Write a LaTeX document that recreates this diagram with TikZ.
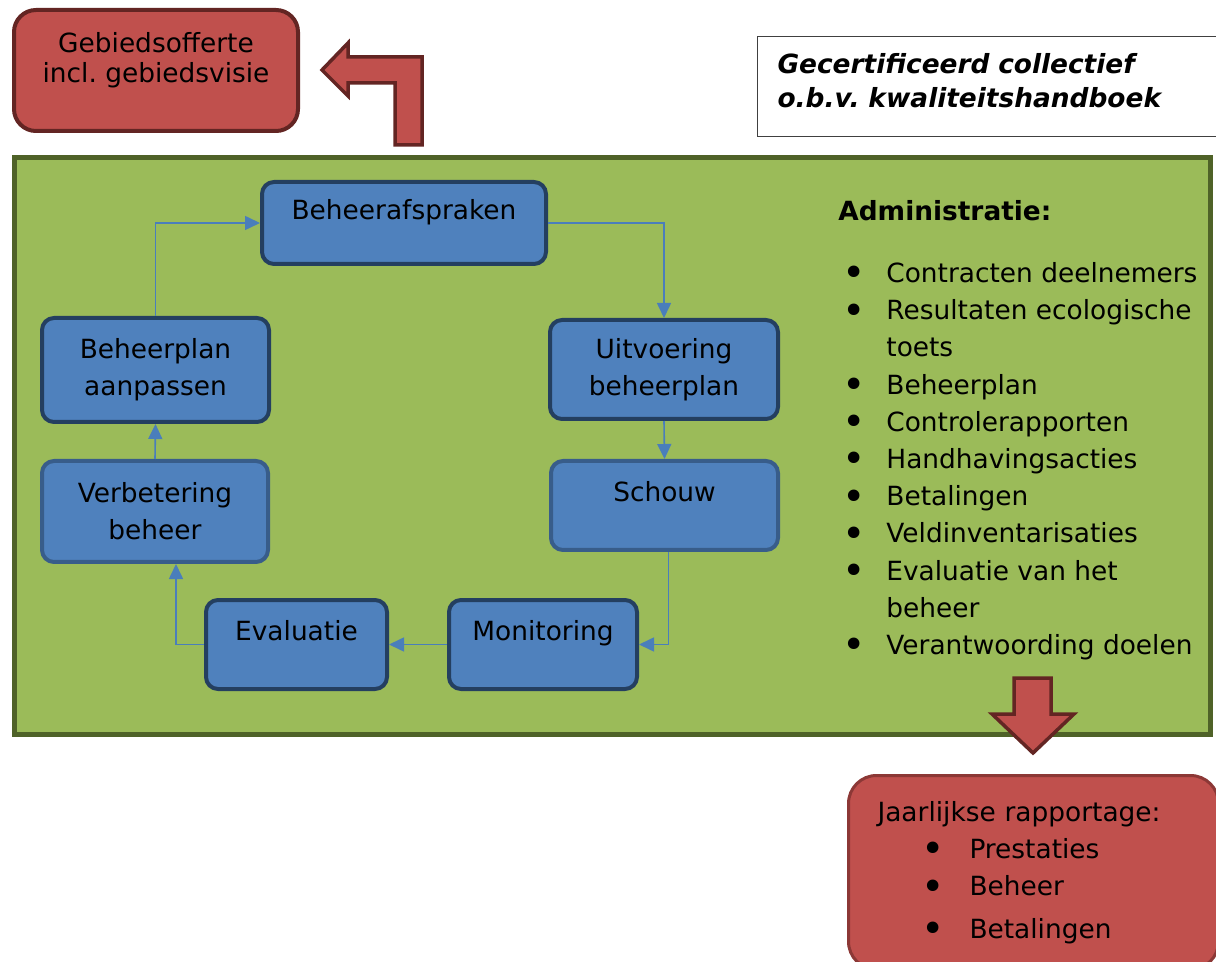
\documentclass[tikz,border=0pt]{standalone}
\usepackage{fontspec}
\usepackage{graphicx}
\setmainfont{DejaVu Sans}
\usetikzlibrary{arrows.meta}
\definecolor{vakblauw}{HTML}{4F81BD}
\definecolor{randblauw}{HTML}{243F60}
\definecolor{randlicht}{HTML}{385D8A}
\definecolor{lijnblauw}{HTML}{4A7EBB}
\definecolor{vakgroen}{HTML}{9BBB59}
\definecolor{randgroen}{HTML}{4F6228}
\definecolor{vakrood}{HTML}{C0504D}
\definecolor{randrood}{HTML}{632523}
\definecolor{randroodlicht}{HTML}{8C3836}
\newcommand{\opsom}{\makebox[24pt][l]{\hspace{2pt}\raisebox{-2.2pt}{\scalebox{1.5}{\textbullet}}}}
\begin{document}
\frenchspacing
\begin{tikzpicture}[x=0.5pt, y=-0.5pt,
    font=\fontsize{13.2pt}{18.6pt}\selectfont,
    stap/.style={draw=randblauw, line width=2pt, fill=vakblauw, rounded corners=6pt, align=center, inner sep=0pt},
    enkel/.style={text height=10pt, text depth=13.8pt},
    pijl/.style={draw=lijnblauw, line width=0.8pt, -{Triangle[length=7.5pt,width=7pt]}},
    blok/.style={fill=vakrood, draw=randrood, line width=1.75pt, line join=miter}]
        \clip (0,0) rectangle (1216,962);
        \fill[white] (0,0) rectangle (1216,962);
        \node[draw=randrood, line width=2pt, fill=vakrood, rounded corners=11pt, align=center, inner sep=0pt, minimum width=142pt, minimum height=60.5pt, font=\fontsize{13.2pt}{15.3pt}\selectfont, text height=25.3pt, text depth=12.8pt] (offerte) at (156,70.5) {Gebiedsofferte\\incl. gebiedsvisie};
        \node[draw=black!75, line width=0.5pt, fill=white, anchor=north west, text width=215pt, inner xsep=10pt, minimum height=50pt, align=left, font=\fontsize{13.2pt}{16.8pt}\selectfont\bfseries\itshape, text height=10pt, text depth=22.8pt] (cert) at (757,36) {Gecertificeerd collectief\\o.b.v. kwaliteitshandboek};
        \filldraw[blok] (395,145) -- (395,83) -- (348,83) -- (348,96) -- (322,70) -- (348,43) -- (348,57) -- (422,57) -- (422,145) -- cycle;
        \filldraw[draw=randgroen, fill=vakgroen, line width=2.5pt] (14.5,157.5) rectangle (1210.5,734.5);
        \node[stap, enkel, minimum width=142pt, minimum height=41pt] (afspraken) at (404,223) {Beheerafspraken};
        \node[stap, minimum width=114pt, minimum height=49.5pt] (uitvoering) at (664,369.5) {Uitvoering\\beheerplan};
        \node[stap, enkel, draw=randlicht, minimum width=113.5pt, minimum height=44.5pt] (schouw) at (664.5,505.5) {Schouw};
        \node[stap, enkel, minimum width=94pt, minimum height=44.5pt] (monitoring) at (543,644.5) {Monitoring};
        \node[stap, enkel, minimum width=90.5pt, minimum height=44.5pt] (evaluatie) at (296.5,644.5) {Evaluatie};
        \node[stap, draw=randlicht, minimum width=113pt, minimum height=50.5pt] (verbetering) at (155,511.5) {Verbetering\\beheer};
        \node[stap, minimum width=113.5pt, minimum height=52pt] (aanpassen) at (155.5,370) {Beheerplan\\aanpassen};
        \draw[pijl] (afspraken.east) -| (uitvoering.north);
        \draw[pijl] (uitvoering.south) -- (schouw.north);
        \draw[pijl] ([xshift=2pt]schouw.south) |- (monitoring.east);
        \draw[pijl] (monitoring.west) -- (evaluatie.east);
        \draw[pijl] (evaluatie.west) -| ([xshift=10.5pt]verbetering.south);
        \draw[pijl] (verbetering.north) -- (aanpassen.south);
        \draw[pijl] (aanpassen.north) |- (afspraken.west);
        \node[anchor=north west, align=left, inner sep=0pt] (admin) at (838,200) {\textbf{Administratie:}\\[12.4pt]
            \opsom Contracten deelnemers\\
            \opsom Resultaten ecologische\\
            \hspace*{24pt}toets\\
            \opsom Beheerplan\\
            \opsom Controlerapporten\\
            \opsom Handhavingsacties\\
            \opsom Betalingen\\
            \opsom Veldinventarisaties\\
            \opsom Evaluatie van het\\
            \hspace*{24pt}beheer\\
            \opsom Verantwoording doelen};
        \filldraw[blok] (1014,678) -- (1051,678) -- (1051,714) -- (1074,714) -- (1033,753) -- (992,714) -- (1014,714) -- cycle;
        \node[draw=randroodlicht, line width=1.5pt, fill=vakrood, rounded corners=14pt, anchor=north west, text width=156pt, inner xsep=14.5pt, minimum height=97pt, align=left, font=\fontsize{13.2pt}{18.7pt}\selectfont] (jaar) at (847,774) {Jaarlijkse rapportage:\\
            \hspace*{20pt}\opsom\hspace{2pt}Prestaties\\
            \hspace*{20pt}\opsom\hspace{2pt}Beheer\\[2.5pt]
            \hspace*{20pt}\opsom\hspace{2pt}Betalingen};
\end{tikzpicture}
\end{document}
